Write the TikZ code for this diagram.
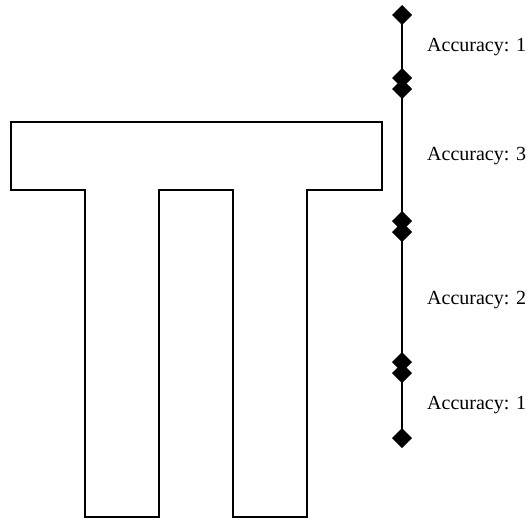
\documentclass[tikz,border=0pt]{standalone}
\usepackage{fontspec}
\setmainfont{Liberation Serif}
\usetikzlibrary{shapes.geometric}
\tikzset{
  mark/.style={},
  dmd/.style={diamond, fill=black, draw=none, minimum width=20pt, minimum height=20pt, inner sep=0pt, outer sep=0pt},
  seg/.style={line width=1.8pt},
  acc/.style={anchor=west, inner sep=0pt, font=\fontsize{20}{24}\selectfont},
  outline/.style={line width=1.8pt, line join=miter}
}
\begin{document}
\begin{tikzpicture}[x=1pt,y=-1pt]
\useasboundingbox (0,0) rectangle (532,520);
% pi-shaped outline
\draw[outline] (11,122) -- (382,122) -- (382,190) -- (307,190) -- (307,517) -- (233,517) -- (233,190) -- (159,190) -- (159,517) -- (85,517) -- (85,190) -- (11,190) -- cycle;
% timeline
\node[dmd] (d1) at (402,15) {};
\node[dmd] (d2) at (402,78) {};
\node[dmd] (d3) at (402,89) {};
\node[dmd] (d4) at (402,221) {};
\node[dmd] (d5) at (402,232) {};
\node[dmd] (d6) at (402,362) {};
\node[dmd] (d7) at (402,373) {};
\node[dmd] (d8) at (402,438) {};
\draw[seg] (d1.center) -- (d2.center);
\draw[seg] (d3.center) -- (d4.center);
\draw[seg] (d5.center) -- (d6.center);
\draw[seg] (d7.center) -- (d8.center);
\node[acc] (l1) at (427,47) {Accuracy: 1};
\node[acc] (l2) at (427,156) {Accuracy: 3};
\node[acc] (l3) at (427,300) {Accuracy: 2};
\node[acc] (l4) at (427,405) {Accuracy: 1};
\end{tikzpicture}
\end{document}
